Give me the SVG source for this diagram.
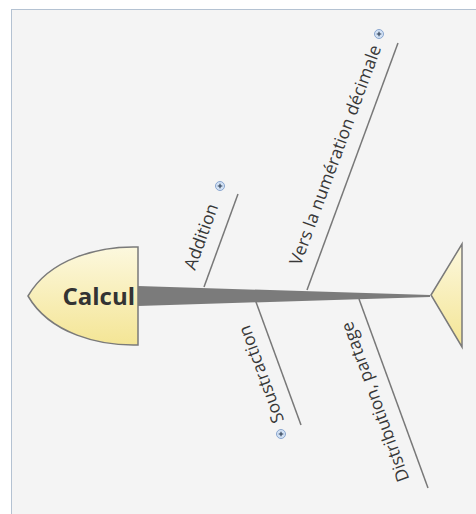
<svg xmlns="http://www.w3.org/2000/svg" width="476" height="514" viewBox="0 0 476 514">
<defs>
<linearGradient id="yel" x1="0" y1="0" x2="0" y2="1">
<stop offset="0" stop-color="#fcf8de"/>
<stop offset="1" stop-color="#f4e595"/>
</linearGradient>
<g id="plus">
<circle r="4.5" fill="#d3e2f5" stroke="#8aa6cf" stroke-width="1"/>
<path d="M-2.3,0H2.3M0,-2.3V2.3" stroke="#2a3a50" stroke-width="1.1"/>
</g>
</defs>
<style>
.lbl{font-family:"Open Sans","Noto Sans",sans-serif;font-size:17.5px;fill:#383838}
.bone{stroke:#787878;stroke-width:1.5;fill:none}
.shape{fill:url(#yel);stroke:#7a7a7a;stroke-width:1.5}
</style>
<rect width="476" height="514" fill="#ffffff"/>
<rect x="11.5" y="9.5" width="470" height="510" fill="#f4f4f4" stroke="#b4c2d2" stroke-width="1"/>
<g id="connectors">
<polygon points="138,286 430,295 430,297 138,306" fill="#7b7b7b"/>
<line class="bone" x1="204" y1="287" x2="238" y2="194"/>
<line class="bone" x1="307" y1="290" x2="398" y2="43"/>
<line class="bone" x1="256" y1="302" x2="301" y2="425"/>
<line class="bone" x1="359" y1="299" x2="428" y2="488"/>
</g>
<g id="head">
<path class="shape" d="M138,247 C100,246 50,258 28,296 C50,334 100,346 138,345 Z"/>
<text x="135" y="305" text-anchor="end" style="font-family:'Open Sans','Noto Sans',sans-serif;font-size:24px;font-weight:bold;fill:#333">Calcul</text>
</g>
<g id="tail">
<polygon class="shape" points="431,295 462,244 462,347"/>
</g>
<g id="addition">
<text class="lbl" transform="translate(195,271) rotate(-70)">Addition</text>
<use href="#plus" x="220" y="186"/>
</g>
<g id="vers">
<text class="lbl" transform="translate(300.5,266.5) rotate(-69.7)">Vers la numération décimale</text>
<use href="#plus" x="379" y="34"/>
</g>
<g id="soustraction">
<text class="lbl" transform="translate(284.3,420.5) rotate(-110)">Soustraction</text>
<use href="#plus" x="281" y="434"/>
</g>
<g id="distribution">
<text class="lbl" transform="translate(409.5,479) rotate(-110)">Distribution, partage</text>
</g>
</svg>
